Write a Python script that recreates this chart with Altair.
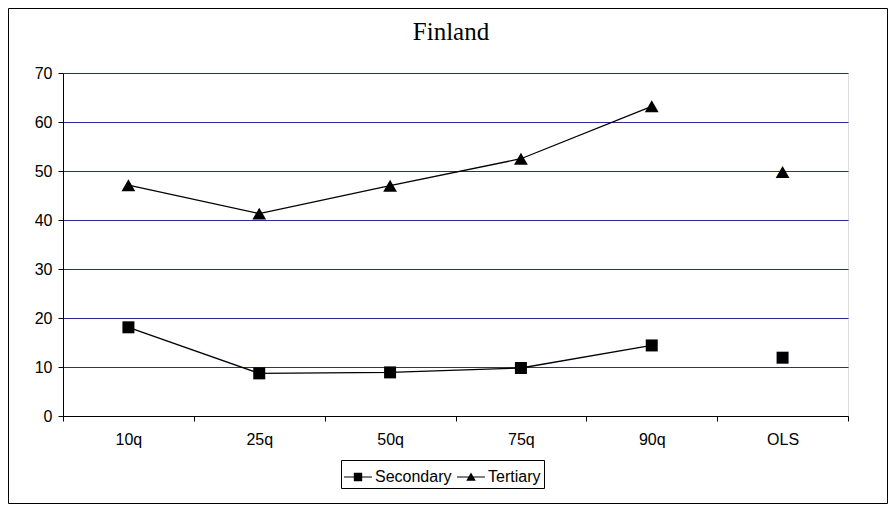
import altair as alt
import pandas as pd

categories = ["10q", "25q", "50q", "75q", "90q", "OLS"]
series_names = ["Secondary", "Tertiary"]
secondary = [18.1, 8.7, 8.9, 9.8, 14.4, 11.9]
tertiary = [47.1, 41.3, 47.0, 52.5, 63.2, 49.8]
y_ticks = [0, 10, 20, 30, 40, 50, 60, 70]
title_text = ["Finland"]

rows = []
for c, s, t in zip(categories, secondary, tertiary):
    rows.append({"q": c, "series": "Secondary", "value": s})
    rows.append({"q": c, "series": "Tertiary", "value": t})
df = pd.DataFrame(rows)

FONT = "Liberation Sans"
W, H = 785, 343
PL, PT, PR, PB = 55, 65, 40, 88

x_enc = alt.X(
    "q:N", sort=categories,
    scale=alt.Scale(type="band", paddingInner=0, paddingOuter=0),
    bandPosition=0.5,
    axis=alt.Axis(title=None, labelAngle=0, tickBand="extent", grid=False,
                  domainColor="black", tickColor="black", tickSize=5,
                  labelFont=FONT, labelFontSize=16, labelColor="black",
                  labelPadding=10),
)
y_enc = alt.Y(
    "value:Q", scale=alt.Scale(domain=[0, 70], nice=False),
    axis=alt.Axis(title=None, values=y_ticks, grid=True, gridColor="#2a2a9a",
                  gridWidth=1, domainColor="black", tickColor="black",
                  tickSize=5, labelFont=FONT, labelFontSize=16,
                  labelColor="black", labelPadding=6),
)

base = alt.Chart(df)

lines = base.transform_filter("datum.q != 'OLS'").mark_line(
    color="black", strokeWidth=1.3
).encode(x=x_enc, y=y_enc, detail="series:N")

points = base.mark_point(filled=True, opacity=1, color="black").encode(
    x=x_enc, y=y_enc,
    shape=alt.Shape("series:N", scale=alt.Scale(domain=series_names, range=["square", "triangle-up"]), legend=None),
    size=alt.Size("series:N", scale=alt.Scale(domain=series_names, range=[144, 190]), legend=None),
)

sq_path = "M-1,-0.04H1V0.04H-1Z M-0.3,-0.3H0.3V0.3H-0.3Z"
tri_path = "M-1,-0.04H1V0.04H-1Z M0,-0.33L0.34,0.26H-0.34Z"

legend_layer = base.transform_filter("false").mark_point(filled=True, opacity=1, color="black").encode(
    x=x_enc, y=y_enc,
    shape=alt.Shape("series:N", scale=alt.Scale(domain=series_names, range=[sq_path, tri_path]),
                    legend=alt.Legend(title=None, orient="none", legendX=278, legendY=387,
                                      direction="horizontal", strokeColor="black",
                                      padding=3, symbolSize=780, symbolFillColor="black",
                                      symbolStrokeWidth=0, labelFont=FONT,
                                      labelFontSize=16, labelColor="black",
                                      labelOffset=3, columnPadding=5)),
)

border = alt.Chart(pd.DataFrame({"k": [0]})).mark_rect(
    fill="transparent", stroke="black", strokeWidth=1
).encode(
    x=alt.value(-PL + 0.5), x2=alt.value(W + PR - 0.5),
    y=alt.value(-PT + 0.5), y2=alt.value(H + PB - 0.5),
)

title = alt.Chart(pd.DataFrame({"t": title_text})).mark_text(
    font="Liberation Serif", fontSize=25, color="black", align="center",
    baseline="alphabetic"
).encode(text="t:N", x=alt.value(388), y=alt.value(-33))

chart = alt.layer(border, title, lines, points, legend_layer).resolve_scale(
    shape="independent", size="independent"
).properties(
    width=W, height=H,
    padding={"left": PL, "top": PT, "right": PR, "bottom": PB},
    autosize="none",
).configure_view(stroke="#8080b4", strokeWidth=1).configure(background="white")

chart.save("out.html", embed_options={"renderer": "svg", "actions": False})
